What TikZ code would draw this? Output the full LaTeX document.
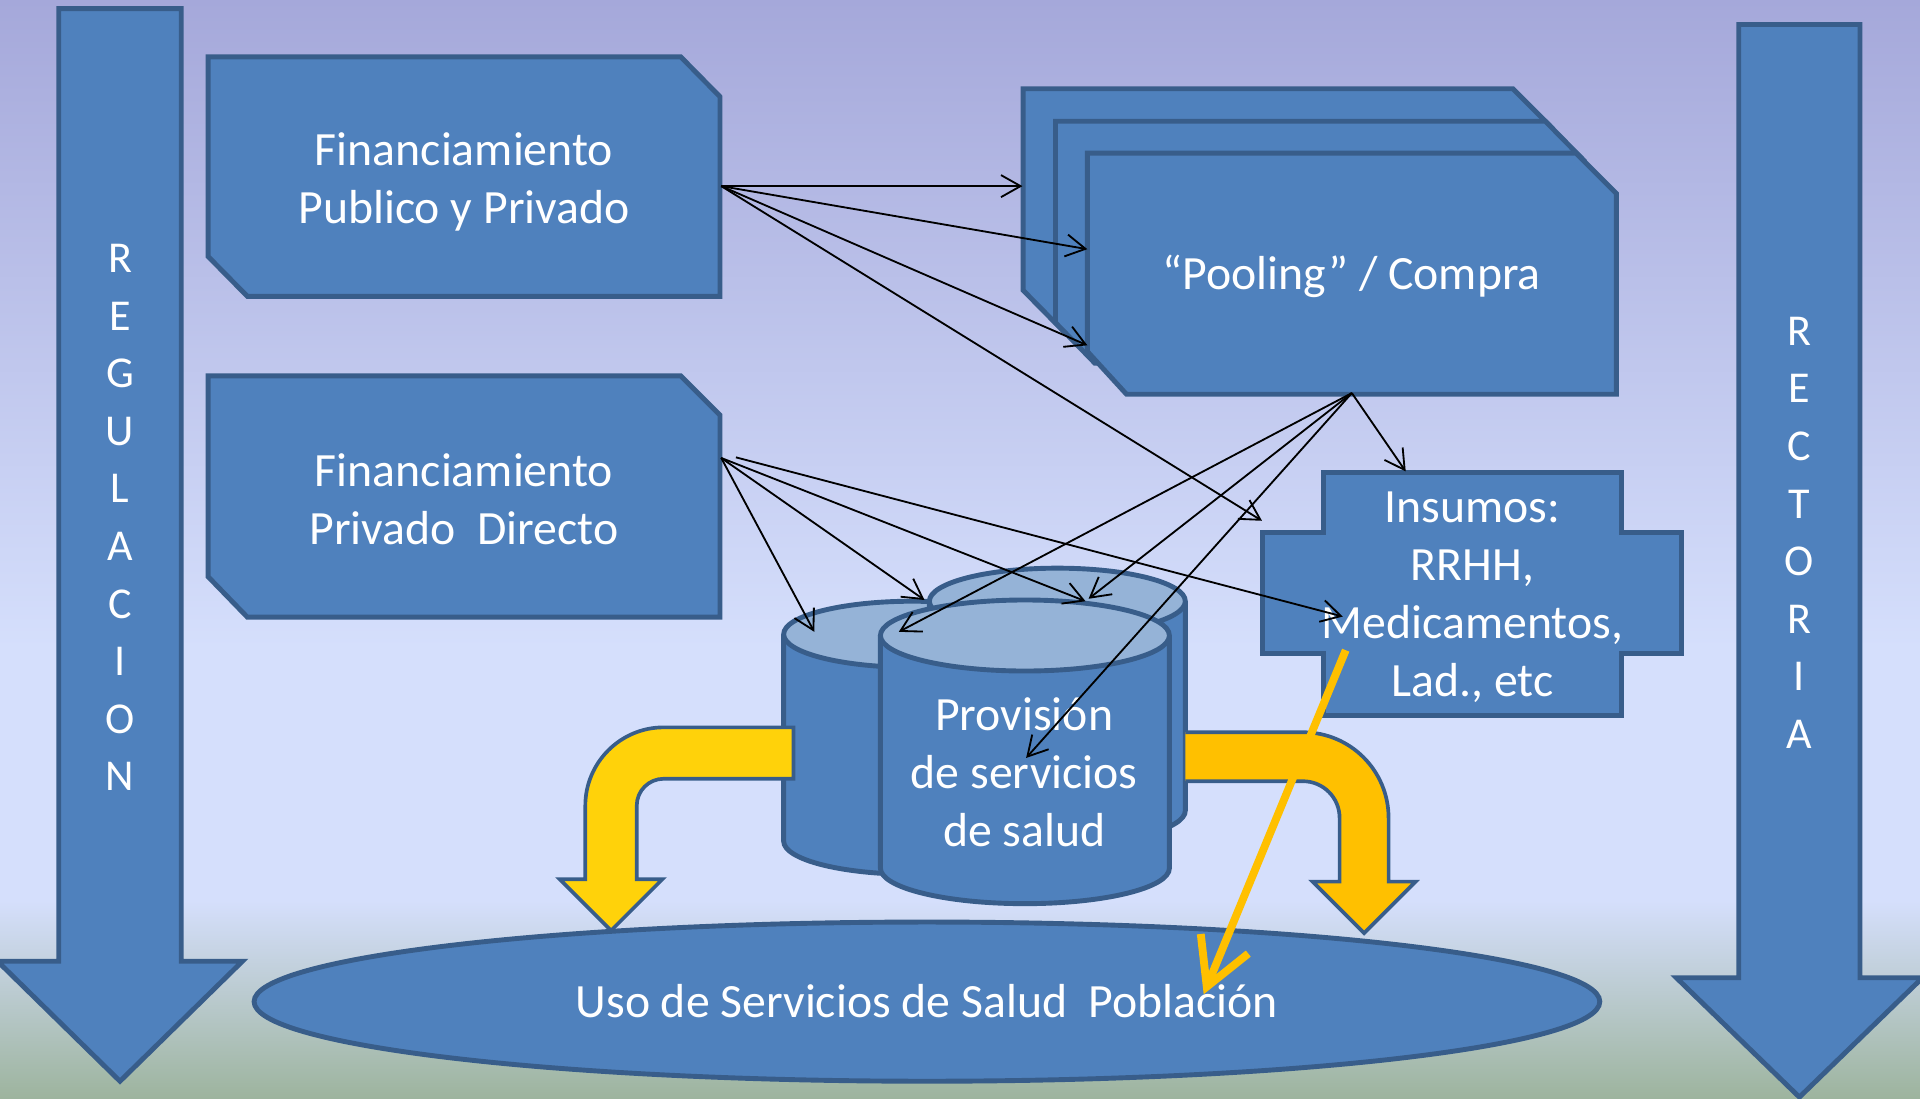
\documentclass[tikz,border=0pt]{standalone}
\usepackage{fontspec}
\setmainfont{Carlito}
\usetikzlibrary{arrows.meta}
\definecolor{boxblue}{RGB}{79,129,189}
\definecolor{edgeblue}{RGB}{56,93,138}
\definecolor{topblue}{RGB}{149,179,215}
\definecolor{bgtop}{RGB}{165,168,218}
\definecolor{bgmid}{RGB}{213,223,252}
\definecolor{bgbot}{RGB}{157,180,158}
\definecolor{yel}{RGB}{255,210,10}
\definecolor{orng}{RGB}{255,192,0}
\pgfdeclareverticalshading{bgshade}{100bp}{color(0bp)=(bgbot); color(25bp)=(bgbot); color(34bp)=(bgmid); color(45.5bp)=(bgmid); color(75bp)=(bgtop); color(100bp)=(bgtop)}
\newcommand{\mycyl}[5]{%
  \path[cylbody] (#1-#4,#2) -- (#1-#4,#3) arc[start angle=180,end angle=0,x radius=#4,y radius=#5] -- (#1+#4,#2);
  \path[cyltop] (#1,#2) ellipse[x radius=#4,y radius=#5];}
\begin{document}
\begin{tikzpicture}[x=0.5pt,y=-0.5pt,
  shapebox/.style={fill=boxblue,draw=edgeblue,line width=2pt,line join=miter},
  bigarrow/.style={fill=boxblue,draw=edgeblue,line width=2pt,line join=miter},
  cylbody/.style={fill=boxblue,draw=edgeblue,line width=2pt},
  cyltop/.style={fill=topblue,draw=edgeblue,line width=2pt},
  bentyel/.style={fill=yel,draw=edgeblue,line width=1.5pt,line join=miter},
  boxtext/.style={text=white,align=center,inner sep=0pt,font=\fontsize{19.5pt}{23.7pt}\selectfont},
  arrowtext/.style={text=white,align=center,inner sep=0pt,font=\fontsize{18pt}{23.5pt}\selectfont},
  conn/.style={draw=black,line width=0.75pt,-{Straight Barb[length=8pt,width=9pt]}},
  orangearrow/.style={draw=orng,line width=3.2pt,-{Straight Barb[length=19pt,width=21pt]}}]
% background
\begin{scope}[y=0.5pt]
\shade[shading=bgshade] (0,-897) rectangle (1568,0);
\end{scope}
\useasboundingbox (0,0) rectangle (1568,897);
% big side arrows
\path[bigarrow] (48,7) -- (148,7) -- (148,785) -- (198,785) -- (98,883) -- (-2,785) -- (48,785) -- cycle;
\node[arrowtext] (reg) at (98,422.7) {R\\E\\G\\U\\L\\A\\C\\I\\O\\N};
\path[bigarrow] (1420,20) -- (1519,20) -- (1519,798.5) -- (1570,798.5) -- (1469.5,896) -- (1369,798.5) -- (1420,798.5) -- cycle;
\node[arrowtext] (rect) at (1469.5,435) {R\\E\\C\\T\\O\\R\\I\\A};
% financing boxes
\path[shapebox] (170,46.5) -- (556,46.5) -- (588,79) -- (588,242) -- (202,242) -- (170,209.5) -- cycle;
\node[boxtext] (fin1) at (379,148.3) {Financiamiento\\Publico y Privado};
\path[shapebox] (170,307) -- (556,307) -- (588,339) -- (588,504) -- (202,504) -- (170,471) -- cycle;
\node[boxtext] (fin2) at (379,407.6) {Financiamiento\\Privado\ \ Directo};
% pooling stack
\path[shapebox] (835.5,72.5) -- (1235.5,72.5) -- (1268,105) -- (1268,270) -- (868,270) -- (835.5,237) -- cycle;
\path[shapebox] (862,99) -- (1262,99) -- (1294,131.5) -- (1294,296.5) -- (894,296.5) -- (862,263.5) -- cycle;
\path[shapebox] (888,125) -- (1287,125) -- (1320,158) -- (1320,322) -- (920,322) -- (888,287) -- cycle;
\node[boxtext,anchor=base] (pool) at (1104,236.3) {“Pooling” / Compra};
% insumos
\path[shapebox] (1081,386) -- (1324,386) -- (1324,435) -- (1373,435) -- (1373,534) -- (1324,534) -- (1324,584) -- (1081,584) -- (1081,534) -- (1031,534) -- (1031,435) -- (1081,435) -- cycle;
\node[boxtext] (ins) at (1202.5,488) {Insumos:\\RRHH,\\Medicamentos,\\Lad., etc};
% cylinders
\mycyl{745}{518}{687}{105}{27}
\mycyl{863.5}{491}{662}{104.5}{27}
\mycyl{837}{519}{709}{118}{29}
\node[boxtext] (prov) at (836.4,631) {Provisión\\de servicios\\de salud};
% bent arrows
\path[bentyel] (648,594) -- (542,594) .. controls (506.7,594) and (478,622.7) .. (478,658) -- (478,718) -- (457,718) -- (499,760) -- (541,718) -- (520,718) -- (520,658) .. controls (520,645.8) and (529.8,636) .. (542,636) -- (648,636) -- cycle;
\fill[orng] (968,598) -- (1064,598) .. controls (1102.7,598) and (1134,629.3) .. (1134,668) -- (1134,720) -- (1156,720) -- (1114,762) -- (1072,720) -- (1094,720) -- (1094,668) .. controls (1094,651.4) and (1080.6,638) .. (1064,638) -- (968,638) -- cycle;
\draw[edgeblue,line width=1.5pt,line join=miter] (968,598) -- (1064,598) .. controls (1102.7,598) and (1134,629.3) .. (1134,668) -- (1134,720) -- (1156,720) -- (1114,762) -- (1072,720) -- (1094,720) -- (1094,668) .. controls (1094,651.4) and (1080.6,638) .. (1064,638) -- (968,638);
% population ellipse
\path[shapebox] (757,818) ellipse[x radius=549.5,y radius=65];
\node[boxtext,anchor=base] (uso) at (757,830.6) {Uso de Servicios de Salud\ \ Población};
% orange arrow
\coordinate (os) at (1099,531);
\coordinate (ot) at (983,812);
\draw[orangearrow] (os) -- (ot);
% black connectors
\coordinate (o1) at (589,152);
\coordinate (o2) at (589,374);
\coordinate (o2b) at (601,373.5);
\coordinate (o3) at (1104,321);
\coordinate (ta) at (835,152);
\coordinate (tb) at (888,203.5);
\coordinate (tc) at (888,282);
\coordinate (td) at (1030.6,425.3);
\coordinate (te) at (665,516);
\coordinate (tf) at (755,490);
\coordinate (tg) at (886.5,491);
\coordinate (th) at (1096.6,503.5);
\coordinate (ti) at (1148,385);
\coordinate (tj) at (734,516);
\coordinate (tk) at (889,489);
\coordinate (tl) at (838,619);
\draw[conn] (o1) -- (ta);
\draw[conn] (o1) -- (tb);
\draw[conn] (o1) -- (tc);
\draw[conn] (o1) -- (td);
\draw[conn] (o2) -- (te);
\draw[conn] (o2) -- (tf);
\draw[conn] (o2) -- (tg);
\draw[conn] (o2b) -- (th);
\draw[conn] (o3) -- (ti);
\draw[conn] (o3) -- (tj);
\draw[conn] (o3) -- (tk);
\draw[conn] (o3) -- (tl);
\end{tikzpicture}
\end{document}
